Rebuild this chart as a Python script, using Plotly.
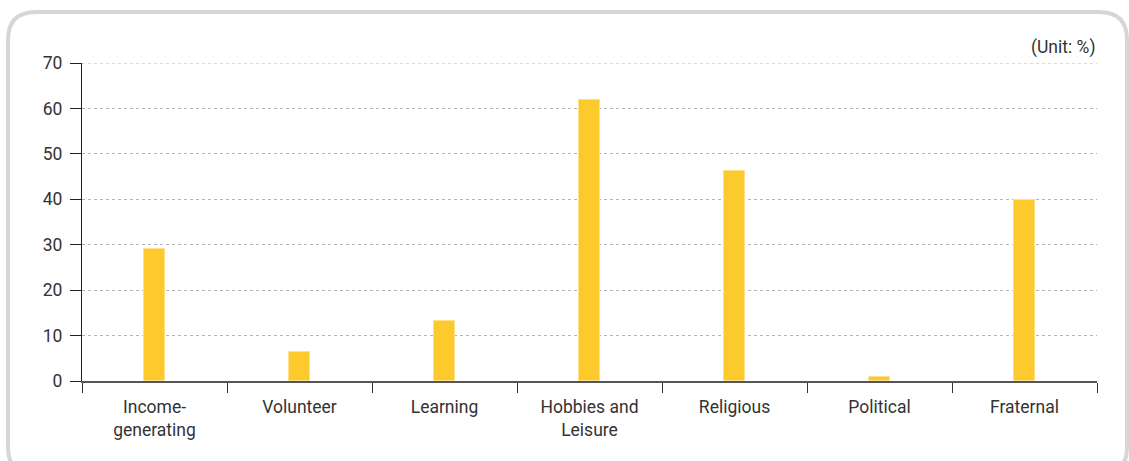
import plotly.graph_objects as go

categories = ["Income-<br>generating", "Volunteer", "Learning", "Hobbies and<br>Leisure",
              "Religious", "Political", "Fraternal"]
values = [29.0, 6.4, 13.2, 61.9, 46.2, 0.9, 39.8]
y_ticks = [0, 10, 20, 30, 40, 50, 60, 70]

W, H = 1129, 461
ML, MR, MT, MB = 82, 32, 63, 80

def px(x):
    return (x - ML) / (W - ML - MR)

def py(y):
    return (H - MB - y) / (H - MT - MB)

fig = go.Figure()
fig.add_trace(go.Bar(
    x=categories, y=values, width=0.145,
    marker=dict(color="#FDCA2E", line=dict(color="#FEE08A", width=1)),
    hoverinfo="skip",
))

# rounded frame
x0, y0, x1, y1, r = 8, 12, 1127, 475, 28
path = (f"M {px(x0+r)},{py(y0)} L {px(x1-r)},{py(y0)} "
        f"Q {px(x1)},{py(y0)} {px(x1)},{py(y0+r)} L {px(x1)},{py(y1-r)} "
        f"Q {px(x1)},{py(y1)} {px(x1-r)},{py(y1)} L {px(x0+r)},{py(y1)} "
        f"Q {px(x0)},{py(y1)} {px(x0)},{py(y1-r)} L {px(x0)},{py(y0+r)} "
        f"Q {px(x0)},{py(y0)} {px(x0+r)},{py(y0)} Z")
fig.add_shape(type="path", xref="paper", yref="paper", path=path,
              line=dict(color="#D6D6D6", width=4), layer="below")

# top dotted gridline at 70 (edge gridline)
fig.add_shape(type="line", xref="paper", yref="y", x0=0, x1=1, y0=70, y1=70,
              line=dict(color="#B5B5B5", width=1, dash="dot"), layer="below")

fig.add_annotation(text="(Unit: %)", xref="paper", yref="paper", x=1, y=1,
                   xanchor="right", yanchor="bottom", yshift=3, showarrow=False,
                   font=dict(size=17.5, color="#333333"))

fig.update_layout(
    width=W, height=H,
    margin=dict(l=ML, r=MR, t=MT, b=MB),
    paper_bgcolor="white", plot_bgcolor="white",
    showlegend=False,
    font=dict(family="Roboto, Noto Sans, sans-serif", size=17.5, color="#333333"),
    bargap=0,
)
fig.update_xaxes(
    showline=True, linecolor="#555555", linewidth=1.5,
    ticks="outside", tickson="boundaries", ticklen=10, tickcolor="#333333",
    showgrid=False, tickfont=dict(size=17.5), ticklabelstandoff=9,
)
fig.update_yaxes(
    range=[0, 70], tickvals=y_ticks, showline=True, linecolor="#222222", linewidth=1.2,
    ticks="outside", ticklen=11, tickcolor="#222222",
    showgrid=True, gridcolor="#B5B5B5", griddash="dot", gridwidth=1,
    zeroline=False, tickfont=dict(size=17.5), ticklabelstandoff=4,
)
fig.write_html("out.html")
